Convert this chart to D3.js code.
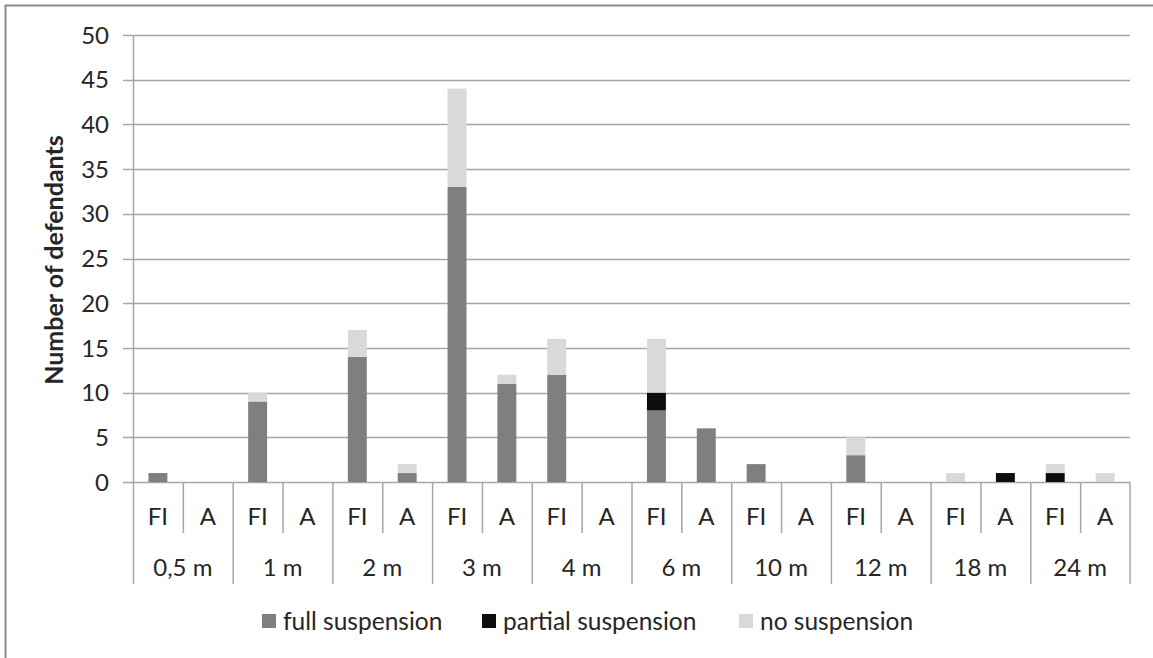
<!DOCTYPE html>
<html><head><meta charset="utf-8">
<script src="https://cdn.jsdelivr.net/npm/d3@7"></script>
<style>body{margin:0;background:#fff}svg{display:block}text{font-family:Lato,"Open Sans",sans-serif;fill:#262626}</style>
</head><body><svg id="c" width="1153" height="658"></svg>
<script>
const groups = ["0,5 m","1 m","2 m","3 m","4 m","6 m","10 m","12 m","18 m","24 m"];
const subs = ["FI","A"];
const seriesNames = ["full suspension","partial suspension","no suspension"];
const colors = ["#7f7f7f","#0d0d0d","#d9d9d9"];
// order: 0,5m FI, 0,5m A, 1m FI, 1m A, ...
const fullVals    = [1,0, 9,0, 14,1, 33,11, 12,0, 8,6, 2,0, 3,0, 0,0, 0,0];
const partialVals = [0,0, 0,0, 0,0,  0,0,   0,0,  2,0, 0,0, 0,0, 0,1, 1,0];
const noneVals    = [0,0, 1,0, 3,1,  11,1,  4,0,  6,0, 0,0, 2,0, 1,0, 1,1];
const yTicks = [0,5,10,15,20,25,30,35,40,45,50];

const svg = d3.select("#c");
const L = 133, R = 1130, T = 35, B = 482;
const keys = [];
groups.forEach(g => subs.forEach(s => keys.push(g + "|" + s)));
const rows = keys.map((k,i)=>({key:k, full:fullVals[i], partial:partialVals[i], none:noneVals[i]}));
const x = d3.scaleBand().domain(keys).range([L,R]).paddingInner(0.62).paddingOuter(0.31);
const xb = d3.scaleBand().domain(keys).range([L,R]);
const y = d3.scaleLinear().domain([0,50]).range([B,T]);

svg.append("rect").attr("x",5.5).attr("y",5.5).attr("width",1200).attr("height",700)
  .attr("fill","none").attr("stroke","#8c8c8c").attr("stroke-width",2);

// gridlines
svg.append("g").selectAll("line").data(yTicks).join("line")
  .attr("x1",123).attr("x2",R).attr("y1",d=>Math.round(y(d))+0.5).attr("y2",d=>Math.round(y(d))+0.5)
  .attr("stroke","#a6a6a6").attr("stroke-width",1.5);
// y axis line
svg.append("line").attr("x1",L+0.5).attr("x2",L+0.5).attr("y1",T).attr("y2",B)
  .attr("stroke","#a6a6a6").attr("stroke-width",1.5);
// y labels
svg.append("g").selectAll("text").data(yTicks).join("text")
  .attr("x",109).attr("y",d=>y(d)).attr("dy","0.36em").attr("text-anchor","end")
  .attr("font-size",24).text(d=>d);

// bars
const stack = d3.stack().keys(["full","partial","none"])(rows);
svg.append("g").selectAll("g").data(stack).join("g").attr("fill",(d,i)=>colors[i])
  .selectAll("rect").data(d=>d).join("rect")
  .attr("x",d=>x(d.data.key)).attr("width",x.bandwidth())
  .attr("y",d=>y(d[1])).attr("height",d=>y(d[0])-y(d[1]));

// category axis ticks
const tg = svg.append("g").attr("stroke","#a6a6a6").attr("stroke-width",1.5);
keys.forEach((k,i)=>{
  const xs = xb(k);
  const long = i % 2 === 0;
  tg.append("line").attr("x1",xs+0.5).attr("x2",xs+0.5).attr("y1",B).attr("y2",long?584:533);
});
tg.append("line").attr("x1",R).attr("x2",R).attr("y1",B).attr("y2",584);
svg.append("g").selectAll("text").data(keys).join("text")
  .attr("x",k=>xb(k)+xb.bandwidth()/2).attr("y",525).attr("text-anchor","middle")
  .attr("font-size",24).text(k=>k.split("|")[1]);
svg.append("g").selectAll("text").data(groups).join("text")
  .attr("x",g=>xb(g+"|FI")+xb.bandwidth()).attr("y",576).attr("text-anchor","middle")
  .attr("font-size",24).text(g=>g);

// y axis title
svg.append("text").attr("transform","translate(63,260) rotate(-90)").attr("text-anchor","middle")
  .attr("font-size",25).attr("font-weight","bold").text("Number of defendants");

// legend
const legX = [262,482,739];
const lg = svg.append("g");
seriesNames.forEach((n,i)=>{
  lg.append("rect").attr("x",legX[i]).attr("y",614).attr("width",14).attr("height",14).attr("fill",colors[i]);
  lg.append("text").attr("x",legX[i]+21).attr("y",621).attr("dy","0.36em").attr("font-size",24.5).text(n);
});
</script></body></html>
